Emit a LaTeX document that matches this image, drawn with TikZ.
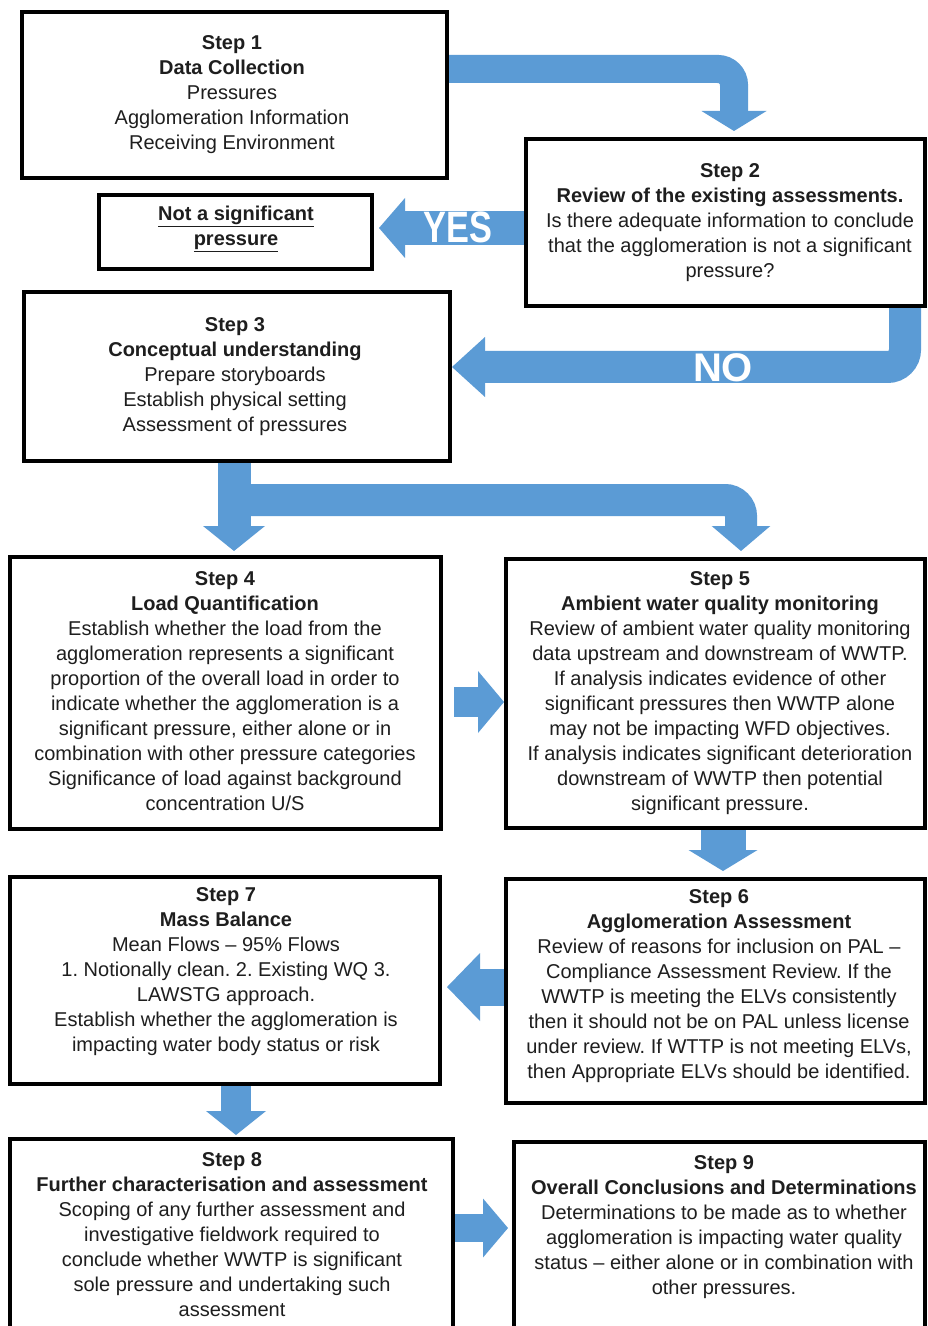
\documentclass[tikz,border=0pt]{standalone}
\usepackage{fontspec}
\setmainfont{Liberation Sans}
\usetikzlibrary{arrows.meta,calc}
\definecolor{arrowblue}{RGB}{91,155,213}
\definecolor{txtgray}{RGB}{30,30,30}
\pgfdeclarelayer{background}
\pgfsetlayers{background,main}
\frenchspacing
\begin{document}
\begin{tikzpicture}[x=0.75pt,y=-0.75pt,
  box/.style={draw=black, line width=3pt, inner sep=0pt},
  txt/.style={align=center, text=txtgray, font=\fontsize{15pt}{18.75pt}\selectfont, inner sep=0pt},
  barrow/.style={draw=arrowblue, line width=#1, line cap=butt},
  bigtxt/.style={text=white, inner sep=0pt, font=\bfseries\fontsize{#1}{#1}\selectfont}]
\useasboundingbox (0,0) rectangle (927,1326);
\clip (0,0) rectangle (927,1326);

% boxes
\node[box, minimum width=318.75pt, minimum height=124.5pt] (s1) at (234.5,95) {};
\node[box, minimum width=299.25pt, minimum height=125.25pt] (s2) at (725.5,222.5) {};
\node[box, minimum width=204.75pt, minimum height=55.5pt] (ns) at (235.5,232) {};
\node[box, minimum width=319.5pt, minimum height=126.75pt] (s3) at (237,376.5) {};
\node[box, minimum width=323.25pt, minimum height=204pt] (s4) at (225.5,693) {};
\node[box, minimum width=314.25pt, minimum height=201.75pt] (s5) at (715.5,693.5) {};
\node[box, minimum width=322.5pt, minimum height=155.25pt] (s7) at (225,980.5) {};
\node[box, minimum width=314.25pt, minimum height=168pt] (s6) at (715.5,991) {};
\node[box, minimum width=332.25pt, minimum height=150.75pt] (s8) at (231.5,1239.5) {};
\node[box, minimum width=308.25pt, minimum height=148.5pt] (s9) at (719.5,1241) {};

\coordinate (split) at (234,500);

\begin{pgfonlayer}{background}
\fill[white] (0,0) rectangle (927,1326);
% Step 1 -> Step 2
\draw[barrow=21pt, rounded corners=12pt, -{Triangle[width=48.75pt,length=15pt,line width=0pt]}, shorten >=4.5pt]
  (s1.east |- 0,69) -| (s2.north -| 734,0);
% YES
\draw[barrow=25.5pt, -{Triangle[width=45pt,length=19.5pt,line width=0pt]}, shorten >=3.75pt]
  (s2.west |- 0,228) -- (ns.east |- 0,228);
% NO
\draw[barrow=24pt, rounded corners=13pt, -{Triangle[width=45pt,length=24.75pt,line width=0pt]}]
  (s2.south -| 905,0) |- (s3.east |- 0,367);
% Step 3 -> Step 4
\draw[barrow=24.75pt, -{Triangle[width=46.5pt,length=18.75pt,line width=0pt]}, shorten >=3pt]
  (s3.south -| 234,0) -- (s4.north -| 234,0);
% Step 3 -> Step 5
\draw[barrow=24pt, rounded corners=12pt, -{Triangle[width=44pt,length=18.75pt,line width=0pt]}, shorten >=4.5pt]
  (split) -| (s5.north -| 741,0);
% Step 4 -> Step 5
\draw[barrow=22.5pt, -{Triangle[width=46.5pt,length=19.5pt,line width=0pt]}, shorten <=8.25pt]
  (s4.east |- 0,702) -- (s5.west |- 0,702);
% Step 5 -> Step 6
\draw[barrow=33.75pt, -{Triangle[width=51.75pt,length=15.75pt,line width=0pt]}, shorten >=4.5pt]
  (s5.south -| 723,0) -- (s6.north -| 723,0);
% Step 6 -> Step 7
\draw[barrow=27.75pt, -{Triangle[width=51pt,length=24.75pt,line width=0pt]}, shorten >=3.75pt]
  (s6.west |- 0,987) -- (s7.east |- 0,987);
% Step 7 -> Step 8
\draw[barrow=22.5pt, -{Triangle[width=45pt,length=18pt,line width=0pt]}, shorten >=1.5pt]
  (s7.south -| 236,0) -- (s8.north -| 236,0);
% Step 8 -> Step 9
\draw[barrow=21pt, -{Triangle[width=44.25pt,length=18.75pt,line width=0pt]}, shorten >=3pt]
  (s8.east |- 0,1228) -- (s9.west |- 0,1228);
\end{pgfonlayer}

\node[bigtxt=33pt] (yes) at (458,227) {\scalebox{0.78}[1]{YES}};
\node[bigtxt=30pt] (no) at (723,368) {NO};

% texts
\node[txt] (t1) at (232,95) {\textbf{Step 1}\\\textbf{Data Collection}\\Pressures\\Agglomeration Information\\Receiving Environment};
\node[txt] (t2) at (730,223) {\textbf{Step 2}\\\textbf{Review of the existing assessments.}\\Is there adequate information to conclude\\that the agglomeration is not a significant\\pressure?};
\node[txt] (tns) at (236,229) {\textbf{\underline{Not a significant}}\\\textbf{\underline{pressure}}};
\node[txt] (t3) at (235,377) {\textbf{Step 3}\\\textbf{Conceptual understanding}\\Prepare storyboards\\Establish physical setting\\Assessment of pressures};
\node[txt] (t4) at (225,691) {\textbf{Step 4}\\\textbf{Load Quantification}\\Establish whether the load from the\\agglomeration represents a significant\\proportion of the overall load in order to\\indicate whether the agglomeration is a\\significant pressure, either alone or in\\combination with other pressure categories\\Significance of load against background\\concentration U/S};
\node[txt] (t5) at (720,693) {\textbf{Step 5}\\\textbf{Ambient water quality monitoring}\\Review of ambient water quality monitoring\\data upstream and downstream of WWTP.\\If analysis indicates evidence of other\\significant pressures then WWTP alone\\may not be impacting WFD objectives.\\If analysis indicates significant deterioration\\downstream of WWTP then potential\\significant pressure.};
\node[txt] (t7) at (226,972) {\textbf{Step 7}\\\textbf{Mass Balance}\\Mean Flows -- 95\% Flows\\1. Notionally clean. 2. Existing WQ 3.\\LAWSTG approach.\\Establish whether the agglomeration is\\impacting water body status or risk};
\node[txt] (t6) at (719,986) {\textbf{Step 6}\\\textbf{Agglomeration Assessment}\\Review of reasons for inclusion on PAL --\\Compliance Assessment Review. If the\\WWTP is meeting the ELVs consistently\\then it should not be on PAL unless license\\under review. If WTTP is not meeting ELVs,\\then Appropriate ELVs should be identified.};
\node[txt] (t8) at (232,1235) {\textbf{Step 8}\\\textbf{Further characterisation and assessment}\\Scoping of any further assessment and\\investigative fieldwork required to\\conclude whether WWTP is significant\\sole pressure and undertaking such\\assessment};
\node[txt] (t9) at (724,1227) {\textbf{Step 9}\\\textbf{Overall Conclusions and Determinations}\\Determinations to be made as to whether\\agglomeration is impacting water quality\\status -- either alone or in combination with\\other pressures.};
\end{tikzpicture}
\end{document}
